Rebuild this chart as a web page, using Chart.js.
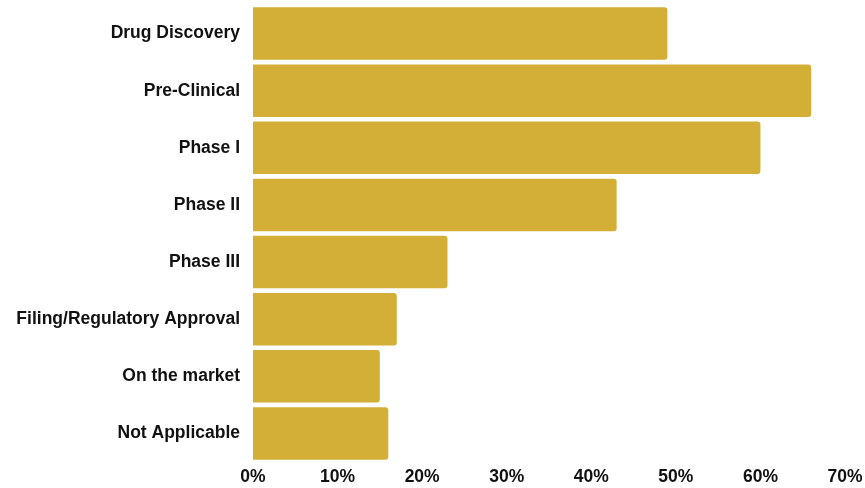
<!DOCTYPE html>
<html>
<head>
<meta charset="utf-8">
<script src="https://cdn.jsdelivr.net/npm/chart.js@4.4.0/dist/chart.umd.min.js"></script>
<style>
  html, body { margin: 0; padding: 0; background: #fff; }
  #wrap { width: 865px; height: 488px; position: relative; }
</style>
</head>
<body>
<div id="wrap"><canvas id="chart"></canvas></div>
<script>
// Stage of development (share of respondents, %)
const stages = [
    'Drug Discovery',
    'Pre-Clinical',
    'Phase I',
    'Phase II',
    'Phase III',
    'Filing/Regulatory Approval',
    'On the market',
    'Not Applicable'
];
const shares = [49, 66, 60, 43, 23, 17, 15, 16];
const xTicks = [0, 10, 20, 30, 40, 50, 60, 70];

const barColor = '#D4AF37';
const fontFamily = '"Liberation Sans", Arial, sans-serif';

new Chart(document.getElementById('chart'), {
    type: 'bar',
    data: {
        labels: stages,
        datasets: [{
            data: shares,
            backgroundColor: barColor,
            borderRadius: 3,
            borderSkipped: 'start',
            barPercentage: 0.92,
            categoryPercentage: 1
        }]
    },
    options: {
        indexAxis: 'y',
        responsive: true,
        maintainAspectRatio: false,
        animation: false,
        layout: { padding: { top: 5, right: 20, left: 0, bottom: 0 } },
        plugins: {
            legend: { display: false },
            tooltip: { enabled: false }
        },
        scales: {
            x: {
                min: 0,
                max: 70,
                afterBuildTicks: axis => { axis.ticks = xTicks.map(v => ({ value: v })); },
                afterFit: axis => {
                    axis.height = 26;
                    axis.paddingRight = 0; // let "70%" hang into the layout padding
                },
                grid: { display: false, drawTicks: false },
                border: { display: false },
                ticks: {
                    color: '#111',
                    font: { family: fontFamily, size: 17.5, weight: 'bold' },
                    padding: 5,
                    maxRotation: 0,
                    callback: v => v + '%'
                }
            },
            y: {
                afterFit: axis => { axis.width = 253; },
                // gap between labels and bars comes from the (hidden) tick length
                grid: { display: false, drawTicks: true, tickLength: 13 },
                border: { display: false },
                ticks: {
                    color: '#111',
                    font: { family: fontFamily, size: 17.5, weight: 'bold', lineHeight: 0.4 },
                    padding: 0
                }
            }
        }
    }
});
</script>
</body>
</html>
